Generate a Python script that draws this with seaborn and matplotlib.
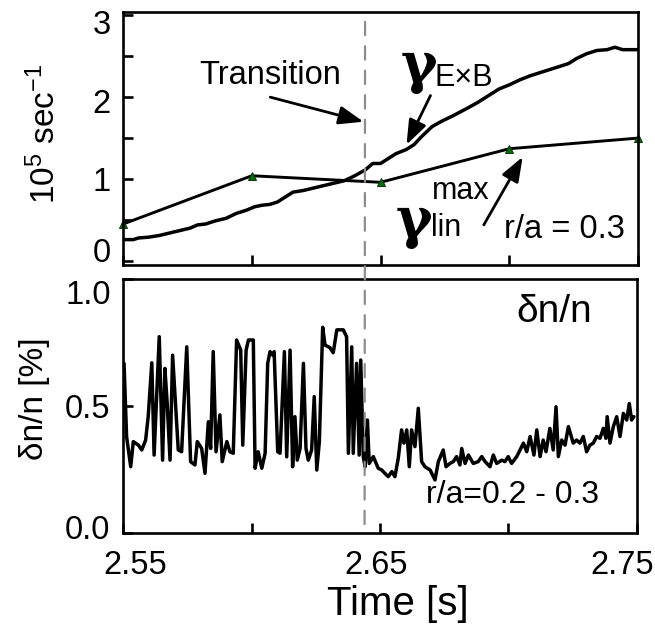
import matplotlib
matplotlib.use("Agg")
import matplotlib.pyplot as plt
import seaborn as sns
from matplotlib.transforms import ScaledTranslation
from matplotlib.patches import ConnectionPatch

# gamma_ExB shearing rate (10^5 / s)
t_exb = [2.5500, 2.5540, 2.5560, 2.5600, 2.5640, 2.5680, 2.5720, 2.5760, 2.5790, 2.5820,
         2.5860, 2.5900, 2.5940, 2.5980, 2.6010, 2.6040, 2.6070, 2.6100, 2.6130, 2.6160,
         2.6200, 2.6240, 2.6280, 2.6320, 2.6360, 2.6400, 2.6440, 2.6470, 2.6500, 2.6530,
         2.6560, 2.6600, 2.6630, 2.6660, 2.6700, 2.6740, 2.6780, 2.6810, 2.6840, 2.6880,
         2.6920, 2.6960, 2.7000, 2.7040, 2.7080, 2.7120, 2.7160, 2.7200, 2.7230, 2.7260,
         2.7300, 2.7340, 2.7380, 2.7410, 2.7440, 2.7500]
gamma_exb = [0.26, 0.26, 0.28, 0.29, 0.31, 0.34, 0.37, 0.40, 0.44, 0.45,
             0.49, 0.52, 0.58, 0.62, 0.66, 0.68, 0.69, 0.72, 0.78, 0.84,
             0.86, 0.89, 0.92, 0.95, 0.98, 1.04, 1.11, 1.19, 1.19, 1.25,
             1.31, 1.36, 1.42, 1.52, 1.64, 1.71, 1.77, 1.82, 1.87, 1.94,
             2.02, 2.10, 2.15, 2.21, 2.26, 2.30, 2.34, 2.38, 2.41, 2.47,
             2.53, 2.57, 2.58, 2.61, 2.58, 2.58]

# max linear growth rate
t_lin = [2.55, 2.60, 2.65, 2.70, 2.75]
gamma_lin = [0.45, 1.04, 0.96, 1.37, 1.50]

# density fluctuation level dn/n (%)
t_dn = [2.5504, 2.5514, 2.5530, 2.5540, 2.5560, 2.5573, 2.5588, 2.5598, 2.5612, 2.5621,
        2.5641, 2.5654, 2.5663, 2.5672, 2.5683, 2.5693, 2.5715, 2.5728, 2.5748, 2.5763,
        2.5780, 2.5789, 2.5806, 2.5819, 2.5832, 2.5841, 2.5851, 2.5862, 2.5877, 2.5886,
        2.5904, 2.5916, 2.5929, 2.5942, 2.5958, 2.5966, 2.5979, 2.5988, 2.6007, 2.6014,
        2.6026, 2.6040, 2.6053, 2.6063, 2.6072, 2.6083, 2.6088, 2.6102, 2.6111, 2.6128,
        2.6137, 2.6150, 2.6160, 2.6169, 2.6178, 2.6189, 2.6202, 2.6212, 2.6221, 2.6234,
        2.6244, 2.6254, 2.6264, 2.6277, 2.6286, 2.6305, 2.6318, 2.6332, 2.6357, 2.6370,
        2.6377, 2.6390, 2.6396, 2.6409, 2.6419, 2.6425, 2.6435, 2.6442, 2.6451, 2.6458,
        2.6474, 2.6493, 2.6507, 2.6519, 2.6532, 2.6546, 2.6558, 2.6571, 2.6584, 2.6593,
        2.6604, 2.6614, 2.6623, 2.6636, 2.6649, 2.6662, 2.6675, 2.6695, 2.6714, 2.6727,
        2.6746, 2.6757, 2.6772, 2.6785, 2.6798, 2.6811, 2.6818, 2.6831, 2.6844, 2.6863,
        2.6882, 2.6896, 2.6909, 2.6928, 2.6941, 2.6954, 2.6974, 2.6986, 2.6999, 2.7012,
        2.7032, 2.7045, 2.7058, 2.7071, 2.7084, 2.7099, 2.7110, 2.7123, 2.7135, 2.7146,
        2.7161, 2.7174, 2.7185, 2.7194, 2.7207, 2.7220, 2.7233, 2.7252, 2.7265, 2.7278,
        2.7291, 2.7304, 2.7317, 2.7330, 2.7343, 2.7356, 2.7369, 2.7379, 2.7384, 2.7395,
        2.7408, 2.7421, 2.7434, 2.7447, 2.7460, 2.7470, 2.7479, 2.7488]
dn = [0.668, 0.379, 0.261, 0.360, 0.346, 0.327, 0.366, 0.458, 0.670, 0.307,
      0.773, 0.287, 0.648, 0.510, 0.287, 0.700, 0.327, 0.320, 0.733, 0.281,
      0.268, 0.360, 0.333, 0.235, 0.438, 0.333, 0.714, 0.320, 0.465, 0.281,
      0.360, 0.320, 0.314, 0.760, 0.720, 0.346, 0.720, 0.760, 0.760, 0.255,
      0.320, 0.255, 0.314, 0.668, 0.714, 0.700, 0.714, 0.320, 0.314, 0.714,
      0.300, 0.720, 0.261, 0.458, 0.287, 0.333, 0.668, 0.333, 0.287, 0.327,
      0.537, 0.248, 0.360, 0.810, 0.740, 0.730, 0.710, 0.800, 0.800, 0.773,
      0.314, 0.733, 0.314, 0.668, 0.307, 0.681, 0.300, 0.261, 0.445, 0.274,
      0.301, 0.255, 0.248, 0.235, 0.222, 0.242, 0.222, 0.294, 0.406, 0.354,
      0.406, 0.261, 0.406, 0.340, 0.491, 0.281, 0.261, 0.248, 0.209, 0.281,
      0.327, 0.261, 0.274, 0.281, 0.301, 0.268, 0.333, 0.274, 0.307, 0.274,
      0.281, 0.301, 0.281, 0.261, 0.307, 0.274, 0.287, 0.281, 0.301, 0.274,
      0.301, 0.327, 0.354, 0.320, 0.380, 0.307, 0.406, 0.301, 0.366, 0.320,
      0.412, 0.327, 0.497, 0.301, 0.366, 0.346, 0.419, 0.354, 0.366, 0.354,
      0.380, 0.320, 0.346, 0.354, 0.380, 0.373, 0.412, 0.373, 0.458, 0.354,
      0.419, 0.458, 0.380, 0.471, 0.445, 0.510, 0.445, 0.458]

t_transition = 2.644

sns.set_style("ticks")
plt.rcParams['font.family'] = ['Liberation Sans', 'DejaVu Sans']
plt.rcParams['mathtext.fontset'] = 'custom'
plt.rcParams['mathtext.rm'] = 'Liberation Sans'
plt.rcParams['mathtext.default'] = 'regular'
for k in ('text.color', 'axes.labelcolor', 'xtick.color', 'ytick.color', 'axes.edgecolor'):
    plt.rcParams[k] = 'black'

fig = plt.figure(figsize=(6.55, 6.32), dpi=100)
ax1 = fig.add_axes([0.1878, 0.5807, 0.7863, 0.4003])
ax2 = fig.add_axes([0.1878, 0.1566, 0.7847, 0.4019])

tick_fs = 23.5

# ---- top panel: growth rates ----
sns.lineplot(x=t_exb, y=gamma_exb, ax=ax1, color='black', lw=2.5, estimator=None)
sns.lineplot(x=t_lin, y=gamma_lin, ax=ax1, color='black', lw=2.1, estimator=None,
             marker='^', markersize=5.5, markerfacecolor='#0a6b0a',
             markeredgecolor='#0b3d0b', clip_on=False)

ax1.set_xlim(2.55, 2.75)
ax1.set_ylim(-0.05, 3.04)
ax1.set_xticks([2.55, 2.60, 2.65, 2.70, 2.75])
ax1.set_xticklabels([])
ax1.set_yticks([0, 0.5, 1, 1.5, 2, 2.5, 3])
ax1.set_yticklabels(['0', '', '1', '', '2', '', '3'])
ax1.set_ylabel(r'10$^5$ sec$^{-1}$', fontsize=24)
ax1.yaxis.set_label_coords(-0.118, 0.52)

head = dict(arrowstyle='-|>,head_length=0.75,head_width=0.28', color='black',
            lw=2.0, mutation_scale=20, shrinkA=0, shrinkB=0)
gfont = dict(family='DejaVu Serif', fontweight='bold', fontsize=40, ha='center', va='center')
ax1.text(2.6072, 2.27, 'Transition', fontsize=23.5, ha='center', va='center')
ax1.annotate('', xy=(2.6434, 1.70), xytext=(2.6072, 2.00), arrowprops=head)
ax1.text(2.6650, 2.37, 'γ', **gfont)
ax1.text(2.6825, 2.24, 'E×B', fontsize=22, ha='center', va='center')
ax1.annotate('', xy=(2.6601, 1.42), xytext=(2.6694, 2.02), arrowprops=head)
ax1.text(2.6630, 0.48, 'γ', **gfont)
ax1.text(2.6810, 0.85, 'max', fontsize=22, ha='center', va='center')
ax1.text(2.6755, 0.40, 'lin', fontsize=22, ha='center', va='center')
ax1.annotate('', xy=(2.7052, 1.27), xytext=(2.6901, 0.44), arrowprops=head)
ax1.text(2.7216, 0.38, 'r/a = 0.3', fontsize=23.5, ha='center', va='center')

# ---- bottom panel: fluctuation level ----
sns.lineplot(x=t_dn, y=dn, ax=ax2, color='black', lw=2.5, estimator=None, sort=False)
ax2.set_xlim(2.55, 2.75)
ax2.set_ylim(0, 1.0)
ax2.set_xticks([2.55, 2.60, 2.65, 2.70, 2.75])
ax2.set_xticklabels(['2.55', '', '2.65', '', '2.75'])
ax2.set_yticks([0, 0.5, 1.0])
ax2.set_yticklabels(['0.0', '0.5', '1.0'])
ax2.set_ylabel('δn/n [%]', fontsize=24)
ax2.yaxis.set_label_coords(-0.143, 0.53)
ax2.set_xlabel('Time [s]', fontsize=29)
ax2.xaxis.label.set_va('center')
ax2.xaxis.set_label_coords(0.535, -0.28)
ax2.text(2.7177, 0.87, 'δn/n', fontsize=28, ha='center', va='center')
ax2.text(2.7014, 0.15, 'r/a=0.2 - 0.3', fontsize=23, ha='center', va='center')

for ax in (ax1, ax2):
    for s in ax.spines.values():
        s.set_visible(True)
        s.set_linewidth(1.9)
        s.set_color('black')
    ax.tick_params(direction='in', length=7, width=1.9, labelsize=tick_fs,
                   colors='black', pad=9)
    ax.tick_params(axis='x', pad=12)

# nudge edge tick labels inward like the original
def nudge(label, dx, dy):
    label.set_transform(label.get_transform() +
                        ScaledTranslation(dx / 72, dy / 72, fig.dpi_scale_trans))

xt = ax2.xaxis.get_major_ticks()
nudge(xt[0].label1, 8.6, 0)
nudge(xt[2].label1, -3, 0)
nudge(xt[4].label1, -10.8, 0)
yt1 = ax1.yaxis.get_major_ticks()
nudge(yt1[0].label1, 0, 8)
nudge(yt1[4].label1, 0, -3)
nudge(yt1[6].label1, 0, -5)
yt2 = ax2.yaxis.get_major_ticks()
nudge(yt2[0].label1, 0, 4.3)
nudge(yt2[2].label1, 0, -9.4)

# dashed transition marker running through both panels
con = ConnectionPatch(xyA=(t_transition, 2.92), coordsA='data', axesA=ax1,
                      xyB=(t_transition, 0.02), coordsB='data', axesB=ax2,
                      color='#8c8c8c', lw=1.6, linestyle=(0, (6, 5)), zorder=5)
fig.add_artist(con)

fig.savefig('out.png', dpi=100)
